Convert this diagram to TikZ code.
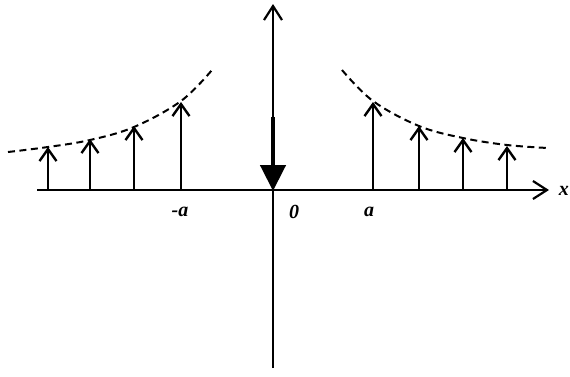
\documentclass[tikz,border=0pt]{standalone}
\usepackage{fontspec}
\setmainfont{Liberation Serif}
\usetikzlibrary{arrows.meta}
\begin{document}
\begin{tikzpicture}[x=1pt,y=-1pt,
  axis/.style={line width=2.2pt,-{Straight Barb[length=14pt,width=18pt,line width=2.2pt]}},
  spike/.style={line width=2.4pt,-{Straight Barb[length=12pt,width=17pt,line width=2.4pt]}},
  env/.style={line width=2pt,dash pattern=on 7pt off 4.5pt},
  lbl/.style={font=\fontsize{20}{20}\selectfont\itshape\bfseries,inner sep=0pt}]
\useasboundingbox (0,0) rectangle (570,376);
% axes
\coordinate (xl) at (37,190);
\coordinate (xr) at (549,190);
\coordinate (yb) at (273,368);
\coordinate (yt) at (273,4);
\draw[axis] (xl) -- (xr);
\draw[axis] (yb) -- (yt);
% thick downward arrow
\coordinate (ds) at (273,117);
\coordinate (de) at (273,191);
\draw[line width=4.5pt,-{Triangle[length=26pt,width=25pt]}] (ds) -- (de);
% spikes
\foreach \n/\x/\t in {l1/48/147,l2/90/139,l3/134/126,l4/181/102,r1/373/102,r2/419/126,r3/463/138,r4/507/146}{
  \coordinate (\n b) at (\x,190);
  \coordinate (\n t) at (\x,\t);
  \draw[spike] (\n b) -- (\n t);
}
% envelopes
\draw[env] plot[smooth,tension=0.6] coordinates {(8,152) (48,147) (90,140) (134,127) (181,101) (212,70)};
\draw[env] plot[smooth,tension=0.6] coordinates {(342,70) (373,101) (419,126) (463,138) (507,145) (548,148)};
% labels
\node[lbl] (ma) at (180,212) {-a};
\node[lbl] (zero) at (294,212) {0};
\node[lbl] (pa) at (369,212) {a};
\node[lbl,anchor=east] (xx) at (569,191) {x};
\end{tikzpicture}
\end{document}
